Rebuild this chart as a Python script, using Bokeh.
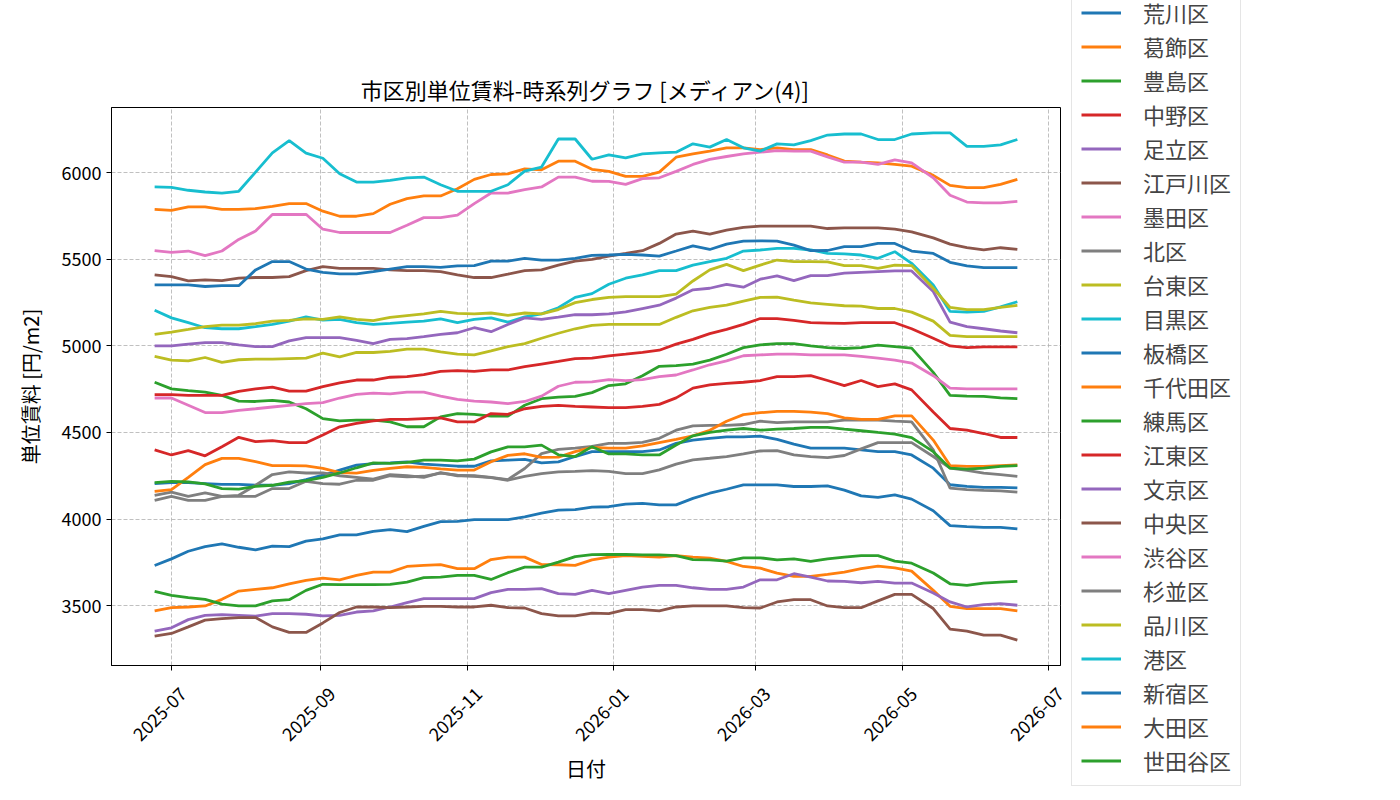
import pandas as pd
from bokeh.plotting import figure
from bokeh.models import Range1d, FixedTicker, Legend, LegendItem, DatetimeAxis
from bokeh.embed import file_html
from bokeh.resources import INLINE
import math

dates = ["2025-06-24", "2025-07-01", "2025-07-08", "2025-07-15", "2025-07-22", "2025-07-29",
         "2025-08-05", "2025-08-12", "2025-08-19", "2025-08-26", "2025-09-02", "2025-09-09",
         "2025-09-16", "2025-09-23", "2025-09-30", "2025-10-07", "2025-10-14", "2025-10-21",
         "2025-10-28", "2025-11-04", "2025-11-11", "2025-11-18", "2025-11-25", "2025-12-02",
         "2025-12-09", "2025-12-16", "2025-12-23", "2025-12-30", "2026-01-06", "2026-01-13",
         "2026-01-20", "2026-01-27", "2026-02-03", "2026-02-10", "2026-02-17", "2026-02-24",
         "2026-03-03", "2026-03-10", "2026-03-17", "2026-03-24", "2026-03-31", "2026-04-07",
         "2026-04-14", "2026-04-21", "2026-04-28", "2026-05-05", "2026-05-14", "2026-05-21",
         "2026-05-28", "2026-06-04", "2026-06-11", "2026-06-18"]

arakawa = [4205, 4210, 4210, 4205, 4200, 4200, 4195, 4195, 4205, 4228, 4253, 4282, 4311, 4320,
           4324, 4330, 4317, 4311, 4305, 4305, 4336, 4340, 4344, 4324, 4330, 4361, 4389,
           4389, 4389, 4389, 4399, 4437, 4456, 4466, 4475, 4475, 4479, 4460, 4433, 4409,
           4410, 4409, 4399, 4389, 4389, 4370, 4294, 4198, 4189, 4183, 4183, 4180]
katsushika = [3469, 3488, 3492, 3498, 3536, 3584, 3594, 3603, 3626, 3646, 3659, 3649, 3674, 3693,
              3693, 3726, 3732, 3737, 3713, 3713, 3766, 3780, 3780, 3737, 3736, 3732, 3764,
              3780, 3789, 3784, 3780, 3789, 3780, 3774, 3755, 3726, 3716, 3688, 3669, 3669,
              3680, 3693, 3713, 3728, 3718, 3699, 3588, 3496, 3483, 3483, 3483, 3469]
toshima = [4790, 4752, 4742, 4733, 4714, 4681, 4679, 4685, 4676, 4637, 4580, 4567, 4571, 4571,
           4561, 4533, 4533, 4590, 4609, 4605, 4594, 4594, 4657, 4695, 4704, 4708, 4730,
           4771, 4781, 4828, 4882, 4886, 4895, 4918, 4952, 4990, 5006, 5013, 5013, 5000,
           4990, 4985, 4990, 5004, 4996, 4987, 4847, 4714, 4710, 4708, 4700, 4695]
nakano = [4718, 4718, 4714, 4714, 4714, 4737, 4752, 4762, 4739, 4739, 4765, 4786, 4803, 4803,
          4819, 4823, 4834, 4853, 4857, 4853, 4861, 4861, 4880, 4895, 4910, 4927, 4929,
          4943, 4952, 4962, 4975, 5010, 5038, 5071, 5095, 5124, 5158, 5158, 5147, 5134,
          5132, 5130, 5134, 5134, 5134, 5099, 5044, 5000, 4990, 4994, 4994, 4994]
adachi = [3352, 3372, 3419, 3444, 3448, 3444, 3439, 3454, 3454, 3450, 3441, 3444, 3463, 3469,
          3492, 3517, 3540, 3540, 3540, 3540, 3575, 3594, 3594, 3598, 3569, 3565, 3588,
          3569, 3588, 3607, 3617, 3617, 3603, 3594, 3594, 3607, 3649, 3649, 3684, 3665,
          3642, 3640, 3632, 3640, 3630, 3630, 3573, 3521, 3492, 3506, 3511, 3502]
edogawa = [3324, 3339, 3377, 3416, 3425, 3431, 3431, 3377, 3345, 3345, 3400, 3460, 3492, 3492,
           3488, 3492, 3496, 3496, 3492, 3492, 3502, 3488, 3486, 3454, 3441, 3441, 3456,
           3454, 3477, 3477, 3469, 3492, 3498, 3498, 3498, 3488, 3486, 3521, 3534, 3534,
           3498, 3488, 3488, 3527, 3565, 3565, 3483, 3364, 3352, 3329, 3329, 3301]
sumida = [4699, 4699, 4657, 4615, 4615, 4628, 4637, 4647, 4657, 4666, 4672, 4699, 4720, 4727,
          4723, 4733, 4733, 4710, 4691, 4681, 4676, 4666, 4679, 4710, 4767, 4790, 4792,
          4805, 4800, 4805, 4823, 4832, 4861, 4891, 4914, 4943, 4948, 4952, 4952, 4948,
          4948, 4948, 4939, 4929, 4918, 4901, 4828, 4756, 4752, 4752, 4752, 4752]
kita = [4137, 4156, 4131, 4151, 4131, 4137, 4195, 4257, 4272, 4266, 4266, 4250, 4240, 4230,
        4257, 4250, 4240, 4268, 4250, 4250, 4240, 4228, 4292, 4378, 4402, 4409, 4420,
        4437, 4437, 4443, 4466, 4513, 4538, 4541, 4541, 4546, 4565, 4557, 4561, 4561,
        4561, 4571, 4571, 4571, 4565, 4561, 4400, 4178, 4170, 4165, 4163, 4155]
taito = [4939, 4918, 4914, 4933, 4905, 4920, 4924, 4924, 4927, 4929, 4958, 4937, 4962, 4962,
         4968, 4981, 4981, 4966, 4952, 4948, 4971, 4996, 5013, 5044, 5073, 5099, 5119,
         5124, 5124, 5124, 5124, 5165, 5203, 5222, 5235, 5258, 5280, 5282, 5264, 5248,
         5240, 5232, 5230, 5216, 5216, 5195, 5143, 5061, 5053, 5053, 5053, 5053]
meguro = [5206, 5162, 5134, 5105, 5099, 5099, 5111, 5124, 5143, 5168, 5149, 5153, 5134, 5124,
          5130, 5137, 5143, 5156, 5134, 5153, 5162, 5137, 5168, 5185, 5220, 5280, 5302,
          5356, 5391, 5410, 5435, 5435, 5467, 5487, 5506, 5548, 5554, 5563, 5563, 5554,
          5534, 5531, 5525, 5506, 5544, 5477, 5352, 5199, 5195, 5199, 5225, 5255]
itabashi = [3732, 3770, 3814, 3841, 3856, 3837, 3822, 3843, 3841, 3872, 3885, 3908, 3908, 3929,
            3939, 3927, 3958, 3985, 3987, 3996, 3996, 3996, 4013, 4034, 4052, 4054, 4069,
            4071, 4086, 4090, 4082, 4082, 4119, 4149, 4172, 4197, 4197, 4197, 4188, 4188,
            4192, 4167, 4134, 4125, 4140, 4115, 4048, 3962, 3956, 3952, 3952, 3943]
chiyoda = [5789, 5783, 5803, 5803, 5789, 5789, 5793, 5806, 5822, 5822, 5778, 5749, 5749, 5764,
           5818, 5851, 5866, 5866, 5908, 5962, 5990, 5994, 6023, 6017, 6067, 6067, 6020,
           6008, 5979, 5979, 6004, 6090, 6109, 6125, 6144, 6144, 6134, 6144, 6134, 6134,
           6103, 6067, 6061, 6057, 6048, 6038, 5985, 5927, 5914, 5914, 5933, 5962]
nerima = [3582, 3559, 3546, 3536, 3508, 3498, 3498, 3527, 3534, 3588, 3623, 3621, 3621, 3621,
          3623, 3636, 3661, 3665, 3674, 3674, 3651, 3690, 3722, 3722, 3751, 3783, 3794,
          3795, 3795, 3793, 3793, 3789, 3766, 3764, 3757, 3776, 3776, 3764, 3770, 3755,
          3770, 3780, 3789, 3789, 3757, 3745, 3688, 3626, 3617, 3630, 3636, 3640]
koto = [4399, 4370, 4395, 4365, 4418, 4472, 4447, 4453, 4441, 4441, 4485, 4533, 4552, 4567,
        4576, 4576, 4580, 4584, 4561, 4561, 4609, 4605, 4637, 4651, 4657, 4651, 4647,
        4643, 4643, 4651, 4662, 4700, 4756, 4775, 4784, 4790, 4800, 4823, 4823, 4828,
        4800, 4771, 4800, 4765, 4781, 4746, 4618, 4523, 4513, 4494, 4471, 4471]
bunkyo = [5000, 5000, 5010, 5019, 5019, 5006, 4996, 4996, 5029, 5048, 5048, 5048, 5032, 5013,
          5038, 5042, 5053, 5067, 5076, 5105, 5082, 5124, 5162, 5153, 5166, 5181, 5180,
          5185, 5197, 5216, 5235, 5276, 5324, 5333, 5356, 5339, 5385, 5404, 5377, 5406,
          5406, 5420, 5425, 5429, 5433, 5433, 5314, 5137, 5111, 5099, 5086, 5076]
chuo = [5410, 5400, 5375, 5381, 5377, 5391, 5395, 5395, 5400, 5435, 5458, 5448, 5448, 5448,
        5439, 5435, 5435, 5429, 5410, 5395, 5395, 5414, 5435, 5439, 5467, 5490, 5500,
        5519, 5534, 5550, 5592, 5646, 5663, 5646, 5669, 5684, 5692, 5692, 5692, 5692,
        5678, 5682, 5682, 5682, 5674, 5659, 5624, 5588, 5567, 5554, 5567, 5557]
shibuya = [5550, 5540, 5548, 5521, 5548, 5615, 5663, 5759, 5759, 5760, 5674, 5655, 5655, 5655,
           5655, 5697, 5741, 5741, 5755, 5822, 5883, 5883, 5902, 5918, 5975, 5975, 5951,
           5950, 5933, 5966, 5971, 6008, 6048, 6077, 6094, 6109, 6119, 6128, 6125, 6125,
           6092, 6061, 6061, 6048, 6075, 6057, 5971, 5870, 5831, 5826, 5826, 5835]
suginami = [4108, 4131, 4108, 4108, 4131, 4131, 4131, 4176, 4176, 4218, 4205, 4201, 4224, 4224,
            4250, 4243, 4247, 4265, 4253, 4247, 4239, 4224, 4247, 4262, 4272, 4275, 4280,
            4275, 4262, 4262, 4284, 4317, 4342, 4351, 4361, 4376, 4393, 4395, 4370, 4361,
            4355, 4367, 4405, 4441, 4441, 4441, 4361, 4294, 4281, 4265, 4256, 4246]
shinagawa = [5067, 5080, 5095, 5111, 5120, 5120, 5128, 5143, 5147, 5156, 5153, 5168, 5153, 5146,
             5165, 5175, 5185, 5200, 5188, 5185, 5190, 5176, 5190, 5185, 5210, 5250, 5268,
             5280, 5285, 5285, 5285, 5299, 5375, 5439, 5471, 5435, 5467, 5496, 5487, 5487,
             5485, 5464, 5464, 5448, 5467, 5464, 5333, 5222, 5209, 5209, 5222, 5234]
minato = [5918, 5916, 5899, 5889, 5883, 5893, 6004, 6115, 6186, 6113, 6084, 5994, 5946, 5946,
          5956, 5971, 5975, 5931, 5893, 5893, 5893, 5931, 6010, 6033, 6195, 6195, 6078,
          6103, 6086, 6109, 6115, 6119, 6167, 6148, 6192, 6144, 6125, 6167, 6161, 6186,
          6218, 6224, 6224, 6192, 6192, 6224, 6230, 6230, 6153, 6153, 6161, 6192]
shinjuku = [5352, 5352, 5352, 5343, 5348, 5348, 5439, 5487, 5487, 5444, 5425, 5416, 5416, 5429,
            5444, 5458, 5458, 5454, 5462, 5464, 5490, 5490, 5506, 5496, 5496, 5506, 5523,
            5525, 5529, 5525, 5519, 5548, 5578, 5557, 5588, 5605, 5607, 5605, 5582, 5550,
            5551, 5573, 5573, 5592, 5592, 5548, 5534, 5483, 5462, 5452, 5452, 5452]
ota = [4160, 4170, 4240, 4314, 4350, 4350, 4331, 4308, 4308, 4307, 4293, 4268, 4265, 4281,
       4293, 4302, 4298, 4290, 4283, 4283, 4331, 4368, 4377, 4356, 4358, 4389, 4414,
       4409, 4409, 4422, 4441, 4460, 4481, 4513, 4565, 4603, 4614, 4622, 4622, 4618,
       4609, 4584, 4576, 4576, 4596, 4596, 4456, 4309, 4304, 4304, 4309, 4313]
setagaya = [4210, 4218, 4214, 4203, 4176, 4173, 4189, 4195, 4213, 4222, 4241, 4266, 4296, 4324,
            4322, 4327, 4340, 4340, 4336, 4346, 4388, 4417, 4417, 4427, 4371, 4361, 4418,
            4376, 4376, 4370, 4370, 4428, 4481, 4500, 4513, 4523, 4513, 4519, 4523, 4529,
            4529, 4519, 4510, 4500, 4491, 4470, 4389, 4294, 4288, 4294, 4304, 4309]

wards = ["荒川区", "葛飾区", "豊島区", "中野区", "足立区", "江戸川区", "墨田区", "北区", "台東区", "目黒区",
         "板橋区", "千代田区", "練馬区", "江東区", "文京区", "中央区", "渋谷区", "杉並区", "品川区", "港区",
         "新宿区", "大田区", "世田谷区"]
series = [arakawa, katsushika, toshima, nakano, adachi, edogawa, sumida, kita, taito, meguro,
          itabashi, chiyoda, nerima, koto, bunkyo, chuo, shibuya, suginami, shinagawa, minato,
          shinjuku, ota, setagaya]
palette = ["#1f77b4", "#ff7f0e", "#2ca02c", "#d62728", "#9467bd",
           "#8c564b", "#e377c2", "#7f7f7f", "#bcbd22", "#17becf"]

x_tick_dates = ["2025-07-01", "2025-09-01", "2025-11-01", "2026-01-01", "2026-03-01", "2026-05-01", "2026-07-01"]
x_tick_labels = ["2025-07", "2025-09", "2025-11", "2026-01", "2026-03", "2026-05", "2026-07"]
y_ticks = [3500, 4000, 4500, 5000, 5500, 6000]

FONT = "Noto Sans CJK JP"
x = pd.to_datetime(dates)
Y0, Y1 = 3154, 6377
X0 = pd.Timestamp("2025-06-06 01:12").value / 1e6
X1 = pd.Timestamp("2026-07-05 22:48").value / 1e6
FRAME_W = 949

p = figure(
    output_backend="svg", toolbar_location=None,
    frame_width=FRAME_W, frame_height=558,
    min_border_left=111, min_border_top=107, min_border_bottom=135, min_border_right=5,
    x_axis_type="datetime",
    title="市区別単位賃料-時系列グラフ [メディアン(4)]",
)
p.x_range = Range1d(start=X0, end=X1)
p.y_range = Range1d(Y0, Y1)

p.title.align = "center"
p.title.text_font = FONT
p.title.text_font_size = "22px"
p.title.text_font_style = "normal"
p.title.text_color = "black"
p.title.standoff = 6

tick_ms = [pd.Timestamp(d).value / 1e6 for d in x_tick_dates]
p.xaxis.ticker = FixedTicker(ticks=tick_ms)
p.xaxis.major_label_overrides = {t: "" for t in tick_ms}
p.xaxis.major_label_standoff = 0
p.xaxis.major_label_text_font_size = "1px"
p.yaxis.ticker = FixedTicker(ticks=y_ticks)

for ax in (p.xaxis, p.yaxis):
    ax.axis_label_text_font = FONT
    ax.axis_label_text_font_size = "20px"
    ax.axis_label_text_font_style = "normal"
    ax.axis_label_text_color = "black"
    ax.axis_line_color = "black"
    ax.major_tick_line_color = "black"
    ax.major_tick_out = 5
    ax.major_tick_in = 0
    ax.minor_tick_line_color = None
p.yaxis.major_label_text_font = FONT
p.yaxis.major_label_text_font_size = "18px"
p.yaxis.major_label_text_color = "black"
p.yaxis.axis_label = "単位賃料 [円/m2]"
p.yaxis.axis_label_standoff = 14

# label-only axis: rotated month labels, nudged right so they sit centred near each tick
shift_px = 11.5
shift_ms = shift_px * (X1 - X0) / FRAME_W
label_pos = [t + shift_ms for t in tick_ms]
lab_axis = DatetimeAxis(ticker=FixedTicker(ticks=label_pos),
                        major_label_overrides={t: s for t, s in zip(label_pos, x_tick_labels)})
lab_axis.axis_line_color = None
lab_axis.major_tick_line_color = None
lab_axis.minor_tick_line_color = None
lab_axis.major_label_orientation = math.pi / 4
lab_axis.major_label_standoff = 14
lab_axis.major_label_text_font = FONT
lab_axis.major_label_text_font_size = "18px"
lab_axis.major_label_text_color = "black"
lab_axis.axis_label = "日付"
lab_axis.axis_label_text_font = FONT
lab_axis.axis_label_text_font_size = "20px"
lab_axis.axis_label_text_font_style = "normal"
lab_axis.axis_label_text_color = "black"
lab_axis.axis_label_standoff = 4
p.add_layout(lab_axis, "below")

p.outline_line_color = "black"
p.outline_line_alpha = 1
p.xgrid.ticker = FixedTicker(ticks=tick_ms)
p.grid.grid_line_color = "#b0b0b0"
p.grid.grid_line_dash = "4 2"
p.grid.grid_line_width = 0.8

items = []
for i, (name, vals) in enumerate(zip(wards, series)):
    r = p.line(x, vals, line_color=palette[i % 10], line_width=2.8)
    items.append(LegendItem(label=name, renderers=[r]))

legend = Legend(items=items, location=(11, -121))
legend.label_text_font = FONT
legend.label_text_font_size = "22px"
legend.glyph_width = 40
legend.glyph_height = 31
legend.label_height = 31
legend.spacing = 2
legend.padding = 9
legend.margin = 0
legend.label_standoff = 22
legend.border_line_color = "#cccccc"
legend.border_line_width = 1
legend.background_fill_alpha = 1
p.add_layout(legend, "right")

open("out.html", "w").write(file_html(p, INLINE))
